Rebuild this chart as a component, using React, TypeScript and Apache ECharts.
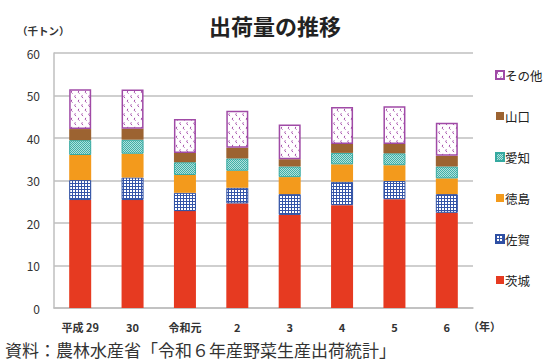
import React, { useEffect, useRef } from 'react';
import * as echarts from 'echarts';

const years = ['平成 29', '30', '令和元', '2', '3', '4', '5', '6'];
const ibaraki = [25.4, 25.4, 22.8, 24.6, 21.9, 24.2, 25.6, 22.4];
const saga = [4.7, 5.3, 4.3, 3.7, 4.9, 5.5, 4.3, 4.4];
const tokushima = [5.9, 5.6, 4.2, 4.0, 4.0, 4.1, 3.7, 3.7];
const aichi = [3.5, 3.3, 3.0, 2.9, 2.5, 2.7, 2.8, 2.8];
const yamaguchi = [2.6, 2.6, 2.2, 2.5, 1.7, 2.1, 2.2, 2.5];
const other = [9.4, 9.2, 8.0, 8.7, 8.2, 8.7, 8.9, 7.8];
const seriesNames = ['茨城', '佐賀', '徳島', '愛知', '山口', 'その他'];

const FONT = '"Noto Sans CJK JP", "Noto Sans", sans-serif';

function makeTile(w: number, h: number, draw: (c: CanvasRenderingContext2D) => void) {
  const cv = document.createElement('canvas');
  cv.width = w;
  cv.height = h;
  const ctx = cv.getContext('2d')!;
  draw(ctx);
  return { image: cv.toDataURL(), imageWidth: w, imageHeight: h, repeat: 'repeat' } as any;
}

export default function App() {
  const ref = useRef<HTMLDivElement>(null);
  useEffect(() => {
    if (!ref.current) return;
    document.body.style.margin = '0';
    const chart = echarts.init(ref.current, undefined, { renderer: 'svg' });

    const sagaPat = makeTile(3, 3, (c) => {
      c.fillStyle = '#ffffff';
      c.fillRect(0, 0, 3, 3);
      c.fillStyle = '#3454a8';
      c.fillRect(0, 0, 3, 1);
      c.fillRect(0, 0, 1, 3);
    });
    const aichiPat = makeTile(2, 2, (c) => {
      c.fillStyle = '#b3e0dc';
      c.fillRect(0, 0, 2, 2);
      c.fillStyle = '#3fb0a8';
      c.fillRect(0, 0, 1, 1);
      c.fillRect(1, 1, 1, 1);
    });
    const otherPat = makeTile(7, 9, (c) => {
      c.fillStyle = '#ffffff';
      c.fillRect(0, 0, 7, 9);
      c.strokeStyle = '#a650ab';
      c.lineWidth = 1;
      c.beginPath();
      c.moveTo(1.8, 0.8);
      c.quadraticCurveTo(0.3, 2.3, 2.5, 3.6);
      c.stroke();
      c.beginPath();
      c.moveTo(5.3, 5.3);
      c.quadraticCurveTo(3.8, 6.8, 6.0, 8.1);
      c.stroke();
    });

    const mk = (name: string, data: number[], color: any, border?: string, bw = 1) => ({
      name,
      type: 'bar',
      stack: 'total',
      data,
      barWidth: 22,
      itemStyle: {
        color,
        borderColor: border || 'transparent',
        borderWidth: border ? bw : 0,
      },
    });

    chart.setOption({
      animation: false,
      title: {
        text: '出荷量の推移',
        left: 'center',
        top: 9,
        textStyle: { fontFamily: FONT, fontSize: 22, fontWeight: 'bold', color: '#222' },
      },
      grid: { left: 54, right: 77, top: 53, bottom: 56 },
      legend: {
        orient: 'vertical',
        left: 495,
        top: 68,
        padding: 0,
        itemWidth: 8,
        itemHeight: 8,
        itemGap: 27,
        icon: 'rect',
        data: [...seriesNames].reverse(),
        textStyle: { fontFamily: FONT, fontSize: 12.5, color: '#222', lineHeight: 14, padding: [0, 0, 0, -4] },
      },
      xAxis: {
        type: 'category',
        data: years,
        axisLine: { lineStyle: { color: '#bfbfbf', width: 1.5 } },
        axisTick: { show: false },
        axisLabel: { fontFamily: FONT, fontSize: 11, fontWeight: 'bold', color: '#333', margin: 13 },
      },
      yAxis: {
        type: 'value',
        min: 0,
        max: 60,
        interval: 10,
        axisLine: { show: true, lineStyle: { color: '#bfbfbf', width: 1.5 } },
        axisTick: { show: false },
        splitLine: { lineStyle: { color: '#bfbfbf', width: 1.5 } },
        axisLabel: { fontFamily: FONT, fontSize: 12, color: '#333', margin: 14 },
      },
      graphic: [
        { type: 'text', left: 17, top: 25, style: { text: '（千トン）', fontFamily: FONT, fontSize: 10.5, fontWeight: 'bold', fill: '#333' } },
        { type: 'text', left: 468, top: 320, style: { text: '（年）', fontFamily: FONT, fontSize: 11, fontWeight: 'bold', fill: '#333' } },
        { type: 'text', left: 5, top: 341, style: { text: '資料：農林水産省「令和６年産野菜生産出荷統計」', fontFamily: FONT, fontSize: 17, fill: '#333' } },
      ],
      series: [
        mk('茨城', ibaraki, '#e63a21'),
        mk('佐賀', saga, sagaPat, '#2e4fa3', 1),
        mk('徳島', tokushima, '#f39a1c'),
        mk('愛知', aichi, aichiPat, '#35a9a0', 1),
        mk('山口', yamaguchi, '#9c6331'),
        mk('その他', other, otherPat, '#a04aa6', 1.5),
      ],
    });
    return () => chart.dispose();
  }, []);
  return <div ref={ref} style={{ width: 550, height: 364 }} />;
}
